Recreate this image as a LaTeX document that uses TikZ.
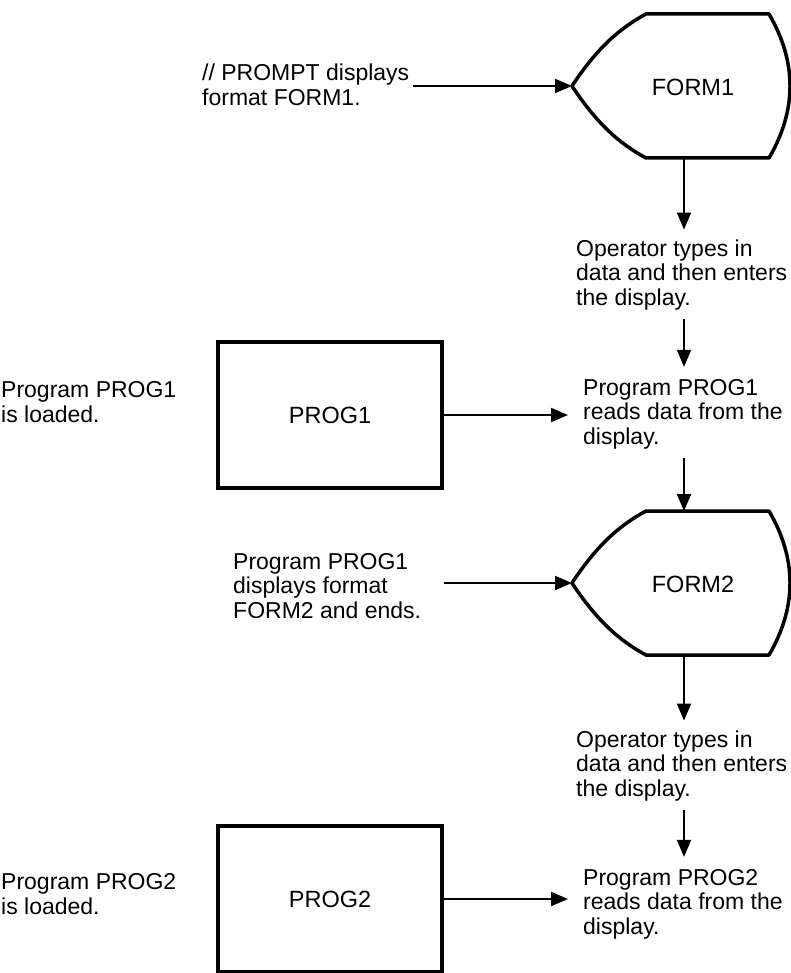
\documentclass[tikz,border=0pt]{standalone}
\usepackage{fontspec}
\setmainfont{Liberation Sans}
\usetikzlibrary{arrows.meta}
\tikzset{
  txt/.style={align=left, anchor=west, inner sep=0pt, font=\fontsize{23}{24.5}\selectfont},
  lbl/.style={inner sep=0pt, font=\fontsize{23.5}{24.5}\selectfont},
  progbox/.style={draw, line width=3.5pt, minimum width=224pt, minimum height=146pt, font=\fontsize{23.5}{24.5}\selectfont},
  displine/.style={line width=3.5pt, line join=round},
  arr/.style={-{Triangle[length=17pt,width=14pt]}, line width=2pt}
}

\begin{document}
\begin{tikzpicture}[x=1pt,y=-1pt]
  \useasboundingbox (0,0) rectangle (791,973);
  % the two display formats
  \foreach \n/\dy in {1/0,2/497}{
    \begin{scope}[shift={(0,\dy)}]
      \draw[displine] (572,86) .. controls (597,48) and (620,28) .. (646,14) -- (769,14)
        .. controls (783,38) and (790,62) .. (790,86)
        .. controls (790,110) and (783,134) .. (769,158) -- (646,158)
        .. controls (620,144) and (597,124) .. (572,86) -- cycle;
      \node[lbl] (form\n) at (693,87) {FORM\n};
      \coordinate (form\n tip) at (572,86);
      \coordinate (form\n top) at (684,14);
      \coordinate (form\n bot) at (684,158);
    \end{scope}
  }
  % programs
  \node[progbox] (prog1) at (330,415) {PROG1};
  \node[progbox] (prog2) at (330,899) {PROG2};
  % texts
  \node[txt] (prompttxt) at (202,85) {// PROMPT displays\\format FORM1.};
  \node[txt] (op1txt) at (576,275) {Operator types in\\data and then enters\\the display.};
  \node[txt] (read1txt) at (583,414) {Program PROG1\\reads data from the\\display.};
  \node[txt] (load1txt) at (1,402) {Program PROG1\\is loaded.};
  \node[txt] (disp2txt) at (233,586) {Program PROG1\\displays format\\FORM2 and ends.};
  \node[txt] (op2txt) at (576,766) {Operator types in\\data and then enters\\the display.};
  \node[txt] (read2txt) at (583,904) {Program PROG2\\reads data from the\\display.};
  \node[txt] (load2txt) at (1,894) {Program PROG2\\is loaded.};
  % connectors
  \draw[arr] ([xshift=4pt]prompttxt.east |- form1tip) -- (form1tip);
  \draw[arr] (prog1.east |- form2tip) -- (form2tip);
  \draw[arr] (prog1.east) -- ([xshift=-15pt]read1txt.west |- prog1.east);
  \draw[arr] (prog2.east) -- ([xshift=-15pt]read2txt.west |- prog2.east);
  \draw[arr, shorten >=10pt] (form1bot) -- (form1bot |- op1txt.north);
  \draw[arr, shorten <=9pt, shorten >=12pt] (form1bot |- op1txt.south) -- (form1bot |- read1txt.north);
  \draw[arr, shorten <=9pt] (form1bot |- read1txt.south) -- (form2top);
  \draw[arr, shorten >=10pt] (form2bot) -- (form2bot |- op2txt.north);
  \draw[arr, shorten <=9pt, shorten >=12pt] (form2bot |- op2txt.south) -- (form2bot |- read2txt.north);
\end{tikzpicture}
\end{document}
